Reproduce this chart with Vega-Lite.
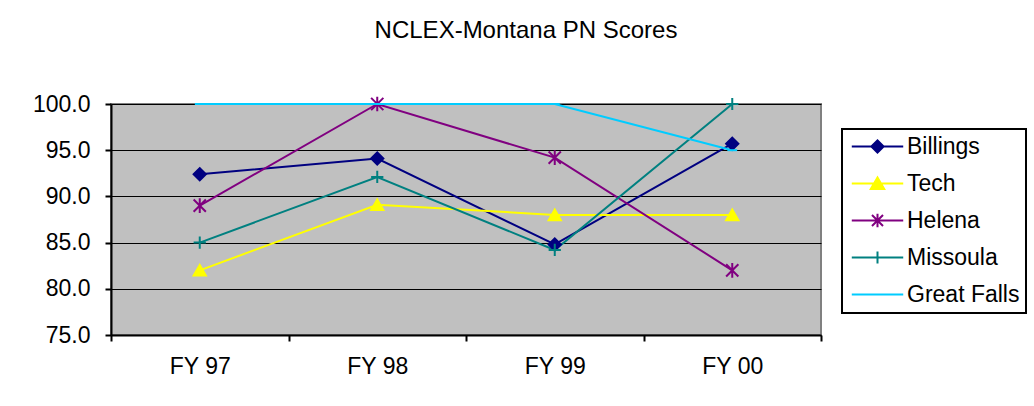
{
  "$schema": "https://vega.github.io/schema/vega-lite/v6.json",
  "autosize": {"type": "none"},
  "width": 710,
  "height": 231,
  "padding": {"left": 111, "top": 104, "right": 213, "bottom": 71},
  "background": "white",
  "title": {
    "text": "NCLEX-Montana PN Scores",
    "font": "Liberation Sans",
    "fontSize": 24,
    "fontWeight": "normal",
    "color": "black",
    "anchor": "middle",
    "dx": 60,
    "baseline": "bottom",
    "offset": 26
  },
  "config": {
    "view": {"fill": "#C0C0C0", "stroke": "#808080", "strokeWidth": 2},
    "axis": {
      "labelFont": "Liberation Sans",
      "labelFontSize": 23,
      "labelColor": "black",
      "domainColor": "black",
      "domainWidth": 2,
      "tickColor": "black",
      "tickWidth": 2,
      "tickSize": 6,
      "titleFontSize": 0
    },
    "legend": {
      "labelFont": "Liberation Sans",
      "labelFontSize": 23,
      "labelColor": "black",
      "strokeColor": "black",
      "strokeWidth": 2,
      "fillColor": "white",
      "padding": 6,
      "rowPadding": 13,
      "symbolSize": 150,
      "symbolStrokeWidth": 2,
      "symbolOffset": 18,
      "labelOffset": 18
    }
  },
  "data": {
    "values": [
      {"year": "FY 97", "series": "Billings", "score": 92.4},
      {"year": "FY 98", "series": "Billings", "score": 94.1},
      {"year": "FY 99", "series": "Billings", "score": 84.8},
      {"year": "FY 00", "series": "Billings", "score": 95.7},
      {"year": "FY 97", "series": "Tech", "score": 82.0},
      {"year": "FY 98", "series": "Tech", "score": 89.1},
      {"year": "FY 99", "series": "Tech", "score": 88.0},
      {"year": "FY 00", "series": "Tech", "score": 88.0},
      {"year": "FY 97", "series": "Helena", "score": 89.0},
      {"year": "FY 98", "series": "Helena", "score": 100.0},
      {"year": "FY 99", "series": "Helena", "score": 94.2},
      {"year": "FY 00", "series": "Helena", "score": 82.0},
      {"year": "FY 97", "series": "Missoula", "score": 85.0},
      {"year": "FY 98", "series": "Missoula", "score": 92.1},
      {"year": "FY 99", "series": "Missoula", "score": 84.2},
      {"year": "FY 00", "series": "Missoula", "score": 100.0},
      {"year": "FY 97", "series": "Great Falls", "score": 100.0},
      {"year": "FY 98", "series": "Great Falls", "score": 100.0},
      {"year": "FY 99", "series": "Great Falls", "score": 100.0},
      {"year": "FY 00", "series": "Great Falls", "score": 95.0}
    ]
  },
  "encoding": {
    "x": {
      "field": "year",
      "type": "nominal",
      "sort": ["FY 97", "FY 98", "FY 99", "FY 00"],
      "scale": {"type": "band", "paddingInner": 0, "paddingOuter": 0},
      "axis": {"title": null, "labelAngle": 0, "tickBand": "extent", "labelPadding": 14, "grid": false}
    },
    "y": {
      "field": "score",
      "type": "quantitative",
      "scale": {"domain": [75, 100], "nice": false, "zero": false},
      "axis": {"title": null, "values": [75, 80, 85, 90, 95, 100], "format": ".1f", "grid": true, "gridColor": "black", "gridWidth": 1, "gridOpacity": 1, "labelPadding": 15}
    }
  },
  "resolve": {"scale": {"color": "independent", "fill": "independent", "shape": "independent"}},
  "layer": [
    {
      "mark": {"type": "line", "strokeWidth": 2},
      "encoding": {
        "color": {
          "field": "series",
          "type": "nominal",
          "scale": {
            "domain": ["Billings", "Tech", "Helena", "Missoula", "Great Falls"],
            "range": ["#000080", "#FFFF00", "#800080", "#008080", "#00CCFF"]
          },
          "legend": null
        }
      }
    },
    {
      "mark": {"type": "point", "filled": false, "strokeWidth": 2, "size": 150, "opacity": 1},
      "encoding": {
        "color": {
          "field": "series",
          "type": "nominal",
          "scale": {
            "domain": ["Billings", "Tech", "Helena", "Missoula", "Great Falls"],
            "range": ["#000080", "#FFFF00", "#800080", "#008080", "#00CCFF"]
          },
          "legend": null
        },
        "fill": {
          "field": "series",
          "type": "nominal",
          "scale": {
            "domain": ["Billings", "Tech", "Helena", "Missoula", "Great Falls"],
            "range": ["#000080", "#FFFF00", "#800080", "#008080", "#00CCFF"]
          },
          "legend": null
        },
        "shape": {
          "field": "series",
          "type": "nominal",
          "scale": {
            "domain": ["Billings", "Tech", "Helena", "Missoula", "Great Falls"],
            "range": ["diamond", "triangle-up", "M-1,-1L1,1M-1,1L1,-1M0,-1.2L0,1.2", "M-1,0L1,0M0,-1L0,1", "M-0.8,0L0.8,0"]
          },
          "legend": null
        }
      }
    },
    {
      "transform": [{"filter": "datum.score > 1000"}],
      "mark": {"type": "point", "filled": false, "strokeWidth": 2, "opacity": 1},
      "encoding": {
        "color": {
          "field": "series",
          "type": "nominal",
          "scale": {
            "domain": ["Billings", "Tech", "Helena", "Missoula", "Great Falls"],
            "range": ["#000080", "#FFFF00", "#800080", "#008080", "#00CCFF"]
          },
          "legend": {"title": null, "orient": "none", "legendX": 731, "legendY": 25}
        },
        "fill": {
          "field": "series",
          "type": "nominal",
          "scale": {
            "domain": ["Billings", "Tech", "Helena", "Missoula", "Great Falls"],
            "range": ["#000080", "#FFFF00", "#800080", "#008080", "#00CCFF"]
          },
          "legend": {"title": null, "orient": "none", "legendX": 731, "legendY": 25}
        },
        "shape": {
          "field": "series",
          "type": "nominal",
          "scale": {
            "domain": ["Billings", "Tech", "Helena", "Missoula", "Great Falls"],
            "range": [
              "M-4.2,0L4.2,0M-1,0L0,-1L1,0L0,1Z",
              "M-4.2,0L4.2,0M-1.1,0.9L0,-1L1.1,0.9Z",
              "M-4.2,0L4.2,0M-0.9,-0.9L0.9,0.9M-0.9,0.9L0.9,-0.9M0,-1.1L0,1.1",
              "M-4.2,0L4.2,0M0,-1L0,1",
              "M-4.2,0L4.2,0"
            ]
          },
          "legend": {"title": null, "orient": "none", "legendX": 731, "legendY": 25}
        }
      }
    }
  ]
}
